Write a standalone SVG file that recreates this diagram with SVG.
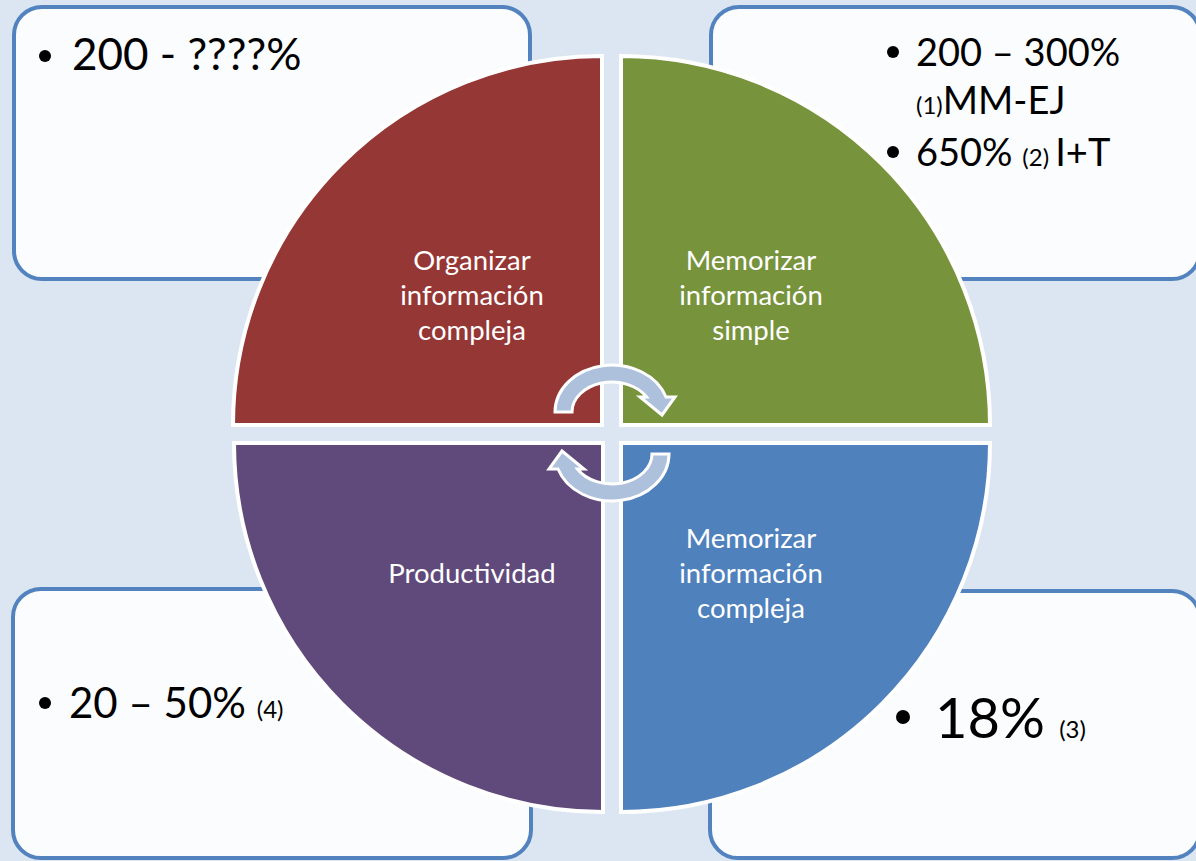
<svg xmlns="http://www.w3.org/2000/svg" width="1196" height="861" viewBox="0 0 1196 861">
<style>
.box{fill:#fbfcfe;stroke:#5283bf;stroke-width:4}
.q{stroke:#ffffff;stroke-width:4}
.ql{font-family:Lato,"Liberation Sans",sans-serif;font-size:27.5px;fill:#ffffff;text-anchor:middle}
.bt{font-family:Lato,"Liberation Sans",sans-serif;fill:#000000}
.sm{font-size:24px}
.arr{fill:#adc0dc;stroke:#ffffff;stroke-width:3;stroke-linejoin:miter}
</style>
<rect x="0" y="0" width="1196" height="861" fill="#dce6f2"/>
<g id="box-tl">
<rect class="box" x="14" y="7" width="516" height="272" rx="28"/>
<circle cx="45" cy="56" r="6"/>
<text class="bt" x="72" y="70" font-size="44">200 - ????%</text>
</g>
<g id="box-tr">
<rect class="box" x="711" y="7" width="489" height="272" rx="28"/>
<circle cx="893" cy="52" r="6"/>
<text class="bt" x="916" y="66" font-size="38">200 – 300%</text>
<text class="bt" x="916" y="114"><tspan class="sm">(1)</tspan><tspan font-size="38">MM-EJ</tspan></text>
<circle cx="893" cy="152" r="6"/>
<text class="bt" x="916" y="166"><tspan font-size="38">650% </tspan><tspan class="sm">(2) </tspan><tspan font-size="38">I+T</tspan></text>
</g>
<g id="box-bl">
<rect class="box" x="13" y="589" width="518" height="269" rx="28"/>
<circle cx="45" cy="703" r="6"/>
<text class="bt" x="69" y="718"><tspan font-size="42">20 – 50% </tspan><tspan class="sm">(4)</tspan></text>
</g>
<g id="box-br">
<rect class="box" x="710" y="591" width="490" height="267" rx="28"/>
<circle cx="903" cy="717" r="7"/>
<text class="bt" x="935" y="738"><tspan font-size="56">18% </tspan><tspan class="sm">(3)</tspan></text>
</g>
<g id="q-organizar">
<path class="q" fill="#953735" d="M602,425 L233,425 A369,369 0 0 1 602,56 Z"/>
<text class="ql" x="472" y="270">Organizar</text>
<text class="ql" x="472" y="305">información</text>
<text class="ql" x="472" y="340">compleja</text>
</g>
<g id="q-memsimple">
<path class="q" fill="#77933c" d="M621,425 L621,56 A369,369 0 0 1 990,425 Z"/>
<text class="ql" x="751" y="270">Memorizar</text>
<text class="ql" x="751" y="305">información</text>
<text class="ql" x="751" y="340">simple</text>
</g>
<g id="q-productividad">
<path class="q" fill="#604a7b" d="M603,443 L603,812 A369,369 0 0 1 234,443 Z"/>
<text class="ql" x="472" y="583">Productividad</text>
</g>
<g id="q-memcompleja">
<path class="q" fill="#4f81bd" d="M621,443 L990,443 A369,369 0 0 1 621,812 Z"/>
<text class="ql" x="751" y="548">Memorizar</text>
<text class="ql" x="751" y="583">información</text>
<text class="ql" x="751" y="618">compleja</text>
</g>
<g id="connectors">
<path class="arr" d="M555,412 A57,47 0 0 1 666,397 L675,397 L662,415 L640,397 L646.6,397 A40,30 0 0 0 572,412 Z"/>
<path class="arr" transform="rotate(180 612 433)" d="M555,412 A57,47 0 0 1 666,397 L675,397 L662,415 L640,397 L646.6,397 A40,30 0 0 0 572,412 Z"/>
</g>
</svg>
